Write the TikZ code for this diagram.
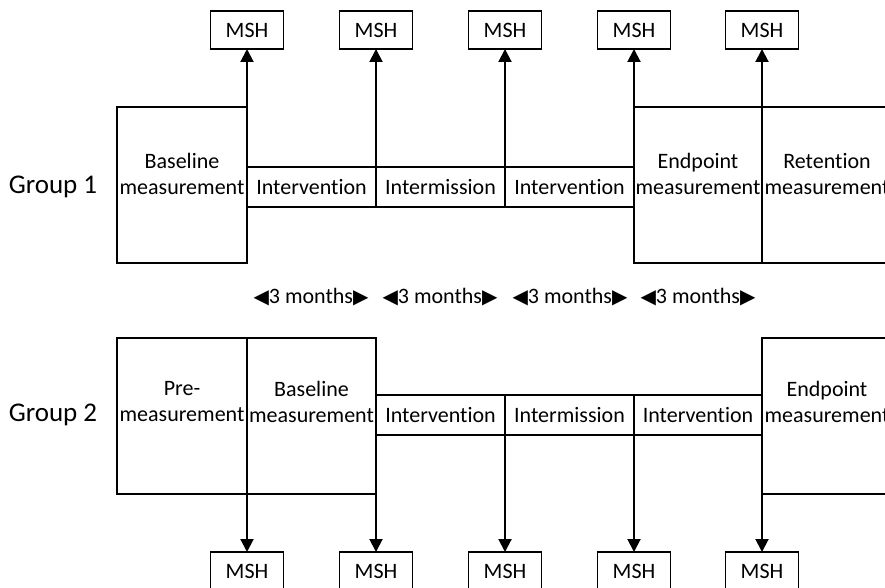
\documentclass[tikz,border=0pt]{standalone}
\usepackage{fontspec}
\setmainfont[Ligatures=NoCommon]{Carlito}
\newfontfamily\symfont{DejaVu Sans}
\usetikzlibrary{arrows.meta}
\newcommand{\ltri}{{\symfont\fontsize{20}{22}\selectfont ◀}}
\newcommand{\rtri}{{\symfont\fontsize{20}{22}\selectfont ▶}}
\begin{document}
\begin{tikzpicture}[x=1pt,y=1pt,
  box/.style={draw, line width=1.6pt, inner sep=0pt, outer sep=0pt},
  bigbox/.style={box, minimum height=156pt},
  cell/.style={box, minimum width=129pt, minimum height=40pt, font=\fontsize{22}{26}\selectfont},
  msh/.style={box, minimum width=73pt, minimum height=38pt, font=\fontsize{22}{26}\selectfont},
  lbl/.style={align=center, inner sep=0pt, font=\fontsize{22}{26}\selectfont},
  grp/.style={inner sep=0pt, font=\fontsize{27}{32}\selectfont},
  mon/.style={inner sep=0pt, font=\fontsize{22}{26}\selectfont},
  arr/.style={line width=2pt, -{Triangle[length=13pt,width=13pt]}}
]
\useasboundingbox (0,0) rectangle (885,587);
\clip (0,0) rectangle (885,587);

% ---------- Group 1 ----------
\node[grp] (g1) at (53,400) {Group 1};
\node[bigbox, minimum width=130pt] (bl1) at (182,402) {};
\node[lbl] (bl1t) at (182,413) {Baseline\\measurement};
\node[cell] (iv1) at (311.5,400) {Intervention};
\node[cell] (im1) at (440.5,400) {Intermission};
\node[cell] (iv2) at (569.5,400) {Intervention};
\node[bigbox, minimum width=128pt] (ep1) at (698,402) {};
\node[lbl] (ep1t) at (698,413) {Endpoint\\measurement};
\node[bigbox, minimum width=130pt] (rt1) at (827,402) {};
\node[lbl] (rt1t) at (827,413) {Retention\\measurement};

\node[msh] (m1) at (247,557) {MSH};
\node[msh] (m2) at (376,557) {MSH};
\node[msh] (m3) at (505,557) {MSH};
\node[msh] (m4) at (634,557) {MSH};
\node[msh] (m5) at (762,557) {MSH};

\draw[arr] (bl1.north east) -- (bl1.north east |- m1.south);
\draw[arr] (iv1.south east) -- (iv1.south east |- m2.south);
\draw[arr] (im1.south east) -- (im1.south east |- m3.south);
\draw[arr] (ep1.north west) -- (ep1.north west |- m4.south);
\draw[arr] (ep1.south east) -- (ep1.south east |- m5.south);

% ---------- months ----------
\node[mon] (t1) at (311,290) {\ltri3 months\rtri};
\node[mon] (t2) at (440,290) {\ltri3 months\rtri};
\node[mon] (t3) at (570,290) {\ltri3 months\rtri};
\node[mon] (t4) at (698,290) {\ltri3 months\rtri};

% ---------- Group 2 ----------
\node[grp] (g2) at (53,172) {Group 2};
\node[bigbox, minimum width=130pt] (pre2) at (182,171) {};
\node[lbl] (pre2t) at (182,185) {Pre-\\measurement};
\node[bigbox, minimum width=129pt] (bl2) at (311.5,171) {};
\node[lbl] (bl2t) at (311.5,185) {Baseline\\measurement};
\node[cell] (iv3) at (440.5,172) {Intervention};
\node[cell] (im2) at (569.5,172) {Intermission};
\node[cell, minimum width=128pt] (iv4) at (698,172) {Intervention};
\node[bigbox, minimum width=130pt] (ep2) at (827,171) {};
\node[lbl] (ep2t) at (827,185) {Endpoint\\measurement};

\node[msh] (n1) at (247,16) {MSH};
\node[msh] (n2) at (376,16) {MSH};
\node[msh] (n3) at (505,16) {MSH};
\node[msh] (n4) at (634,16) {MSH};
\node[msh] (n5) at (762,16) {MSH};

\draw[arr] (pre2.south east) -- (pre2.south east |- n1.north);
\draw[arr] (bl2.south east) -- (bl2.south east |- n2.north);
\draw[arr] (iv3.south east) -- (iv3.south east |- n3.north);
\draw[arr] (im2.south east) -- (im2.south east |- n4.north);
\draw[arr] (ep2.south west) -- (ep2.south west |- n5.north);
\end{tikzpicture}
\end{document}
